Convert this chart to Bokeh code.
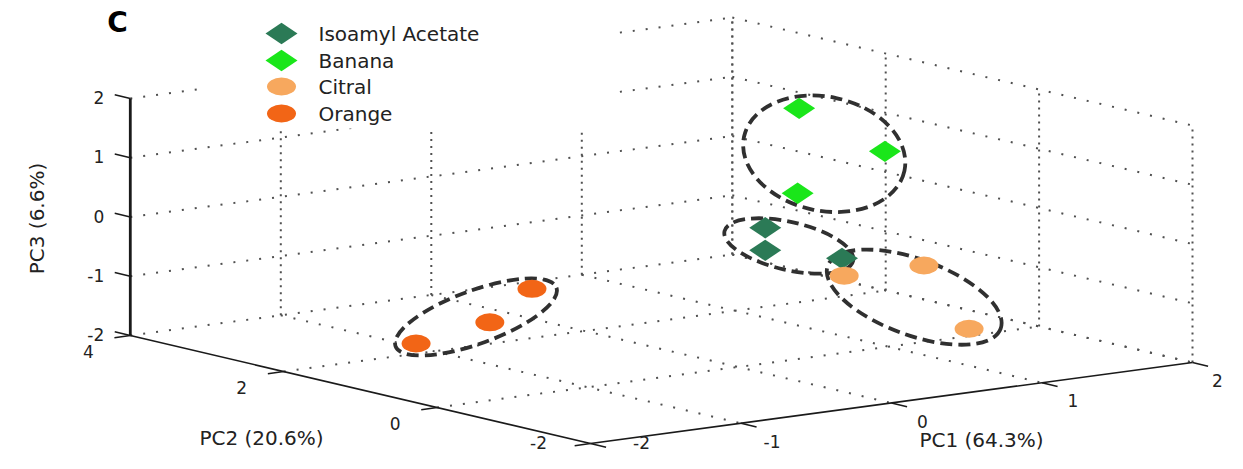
import math
import numpy as np
from bokeh.plotting import figure
from bokeh.models import Range1d
from bokeh.core.properties import value
from bokeh.embed import file_html
from bokeh.resources import INLINE

# ---------------- data ----------------
panel_letter = "C"
series_names = ["Isoamyl Acetate", "Banana", "Citral", "Orange"]
series_colors = ["#2b7a56", "#1ae61a", "#f7a85e", "#f26516"]
series_markers = ["diamond", "diamond", "circle", "circle"]

iso_pc1 = [0.69, 0.69, 1.20]
iso_pc2 = [1.0, 1.0, 1.0]
iso_pc3 = [-0.19, -0.57, -0.88]

banana_pc1 = [1.17, 1.74, 1.16]
banana_pc2 = [1.5, 1.5, 1.5]
banana_pc3 = [1.51, 0.59, 0.08]

citral_pc1 = [0.45, 0.98, 1.28]
citral_pc2 = [-0.5, -0.5, -0.5]
citral_pc3 = [-0.46, -0.47, -1.64]

orange_pc1 = [-0.86, -1.14, -1.63]
orange_pc2 = [1.0, 1.0, 1.0]
orange_pc3 = [-0.69, -1.16, -1.35]

pc1_ticks = [-2, -1, 0, 1, 2]
pc2_ticks = [4, 2, 0, -2]
pc3_ticks = [-2, -1, 0, 1, 2]
axis_titles = ["PC1 (64.3%)", "PC2 (20.6%)", "PC3 (6.6%)"]

series_pcs = [
    (iso_pc1, iso_pc2, iso_pc3),
    (banana_pc1, banana_pc2, banana_pc3),
    (citral_pc1, citral_pc2, citral_pc3),
    (orange_pc1, orange_pc2, orange_pc3),
]

# ---------------- view (3D -> screen projection) ----------------
ORIG = (737.6, 248.0)
E1 = (150.5, -20.25)
E2 = (-76.7, -18.0)
E3 = (0.0, -59.25)


def proj(a, b, c):
    a = np.asarray(a, float); b = np.asarray(b, float); c = np.asarray(c, float)
    X = ORIG[0] + E1[0] * a + E2[0] * b + E3[0] * c
    Y = ORIG[1] + E1[1] * a + E2[1] * b + E3[1] * c
    return X, -Y  # plot y is negative screen y


A_MIN, A_MAX = min(pc1_ticks), max(pc1_ticks)
B_MIN, B_MAX = min(pc2_ticks), max(pc2_ticks)
C_MIN, C_MAX = min(pc3_ticks), max(pc3_ticks)

FONT = value("DejaVu Sans")
W, H = 1227, 453

p = figure(width=W, height=H, output_backend="svg", toolbar_location=None,
           x_range=Range1d(0, W), y_range=Range1d(-H, 0),
           min_border=0, outline_line_color=None, background_fill_color="white")
p.axis.visible = False
p.grid.visible = False

# ---------------- grid (dotted) ----------------
vert_xs, vert_ys, oth_xs, oth_ys = [], [], [], []


def seg(p0, p1, vertical):
    x, y = proj([p0[0], p1[0]], [p0[1], p1[1]], [p0[2], p1[2]])
    if vertical:
        vert_xs.append(list(x)); vert_ys.append(list(y))
    else:
        oth_xs.append(list(x)); oth_ys.append(list(y))


# wall PC2 = max
for a in pc1_ticks:
    if a != A_MIN:
        seg((a, B_MAX, C_MIN), (a, B_MAX, C_MAX), True)
for c in pc3_ticks:
    if c != C_MIN:
        seg((A_MIN, B_MAX, c), (A_MAX, B_MAX, c), False)
# wall PC1 = max
for b in pc2_ticks:
    seg((A_MAX, b, C_MIN), (A_MAX, b, C_MAX), True)
for c in pc3_ticks:
    seg((A_MAX, B_MAX, c), (A_MAX, B_MIN, c), False)
# floor PC3 = min
for a in pc1_ticks:
    if a != A_MIN:
        seg((a, B_MAX, C_MIN), (a, B_MIN, C_MIN), False)
for b in pc2_ticks:
    if b != B_MIN:
        seg((A_MIN, b, C_MIN), (A_MAX, b, C_MIN), False)

GRID_COLOR = "#505050"
p.multi_line(vert_xs, vert_ys, line_color=GRID_COLOR, line_width=2.0, line_dash="2 5")
p.multi_line(oth_xs, oth_ys, line_color=GRID_COLOR, line_width=2.0, line_dash="2 11")

# ---------------- axes (solid) ----------------
AX = "#1a1a1a"
x, y = proj([A_MIN, A_MIN], [B_MAX, B_MAX], [C_MIN, C_MAX])
p.line(x, y, line_color=AX, line_width=2.8)
x, y = proj([A_MIN, A_MIN], [B_MAX, B_MIN], [C_MIN, C_MIN])
p.line(x, y, line_color=AX, line_width=1.7)
x, y = proj([A_MIN, A_MAX], [B_MIN, B_MIN], [C_MIN, C_MIN])
p.line(x, y, line_color=AX, line_width=1.7)

TICK_LEN = 16.0


def unit(v):
    n = math.hypot(v[0], v[1])
    return (v[0] / n, -v[1] / n)  # to plot-y direction


dz = unit(E2)                    # PC3 ticks point along +PC2
d2 = unit((-E1[0], -E1[1]))      # PC2 ticks point along -PC1
d1 = unit((-E2[0], -E2[1]))      # PC1 ticks point along -PC2

tx, ty = [], []
zx, zy = proj([A_MIN] * len(pc3_ticks), [B_MAX] * len(pc3_ticks), pc3_ticks)
for i in range(len(pc3_ticks)):
    tx.append([zx[i], zx[i] + dz[0] * TICK_LEN]); ty.append([zy[i], zy[i] + dz[1] * TICK_LEN])
bx, by = proj([A_MIN] * len(pc2_ticks), pc2_ticks, [C_MIN] * len(pc2_ticks))
for i in range(len(pc2_ticks)):
    tx.append([bx[i], bx[i] + d2[0] * TICK_LEN]); ty.append([by[i], by[i] + d2[1] * TICK_LEN])
ax_, ay_ = proj(pc1_ticks, [B_MIN] * len(pc1_ticks), [C_MIN] * len(pc1_ticks))
for i in range(len(pc1_ticks)):
    tx.append([ax_[i], ax_[i] + d1[0] * TICK_LEN]); ty.append([ay_[i], ay_[i] + d1[1] * TICK_LEN])
p.multi_line(tx, ty, line_color=AX, line_width=1.5)

# tick labels (labels that would fall outside the canvas are pulled back inside)
TICK_FS = "17px"
LOWEST = -442.0
RIGHTMOST = W - 10.0


def place(xs, ys, dx, dy, side_shift):
    ox, oy = [], []
    for xx, yy in zip(xs, ys):
        lx, ly = xx + dx, yy + dy
        if ly < LOWEST:
            lx += side_shift
            ly = LOWEST
        lx = min(lx, RIGHTMOST)
        ox.append(float(lx)); oy.append(float(ly))
    return ox, oy


p.text(x=list(zx - 26), y=list(zy + 1), text=[str(t) for t in pc3_ticks], text_align="right",
       text_baseline="middle", text_font=FONT, text_font_size=TICK_FS, text_color="#222222")
lx, ly = place(bx, by, -42, -16, -10)
p.text(x=lx, y=ly, text=[str(t) for t in pc2_ticks], text_align="center",
       text_baseline="middle", text_font=FONT, text_font_size=TICK_FS, text_color="#222222")
lx, ly = place(ax_, ay_, 31, -18, 20)
p.text(x=lx, y=ly, text=[str(t) for t in pc1_ticks], text_align="center",
       text_baseline="middle", text_font=FONT, text_font_size=TICK_FS, text_color="#222222")

# axis titles
TITLE_FS = "20px"
p.text(x=[981], y=[-439], text=[axis_titles[0]], text_align="center", text_baseline="middle",
       text_font=FONT, text_font_size=TITLE_FS, text_color="#222222")
p.text(x=[261], y=[-437], text=[axis_titles[1]], text_align="center", text_baseline="middle",
       text_font=FONT, text_font_size=TITLE_FS, text_color="#222222")
p.text(x=[36], y=[-218], text=[axis_titles[2]], text_align="center", text_baseline="middle",
       angle=math.pi / 2, text_font=FONT, text_font_size=TITLE_FS, text_color="#222222")

# ---------------- group ellipses (dashed) ----------------
# per group: (center offset dx, dy in px, semi-major, semi-minor, angle deg)
ellipse_style = [
    (-2.0, 0.5, 66.0, 24.0, -13.0),
    (-3.0, 2.8, 82.0, 57.0, -12.0),
    (1.8, 7.2, 92.0, 38.0, -20.0),
    (-3.3, -1.2, 85.6, 26.6, 20.0),
]
for (a, b, c), (dx, dy, ra, rb, ang) in zip(series_pcs, ellipse_style):
    X, Y = proj(a, b, c)
    cx = float(np.mean(X)) + dx
    cy = float(np.mean(Y)) - dy
    p.ellipse(x=[cx], y=[cy], width=2 * ra, height=2 * rb, width_units="screen", height_units="screen",
              angle=math.radians(ang), fill_color=None, line_color="#303030", line_width=3.8,
              line_dash="12 6")

# ---------------- points ----------------
for (a, b, c), col, mk in zip(series_pcs, series_colors, series_markers):
    X, Y = proj(a, b, c)
    if mk == "diamond":
        p.scatter(x=list(X), y=list(Y), marker="diamond", size=32, angle=math.pi / 2,
                  fill_color=col, line_color=None)
    else:
        p.ellipse(x=list(X), y=list(Y), width=29, height=18, width_units="screen",
                  height_units="screen", fill_color=col, line_color=None)

# ---------------- legend (white box, no border) ----------------
p.quad(left=[205], right=[618], bottom=[-128], top=[0], fill_color="white", line_color=None)
leg_y = [-33, -60, -86, -113]
for name, col, mk, ly_ in zip(series_names, series_colors, series_markers, leg_y):
    if mk == "diamond":
        p.scatter(x=[281], y=[ly_], marker="diamond", size=32, angle=math.pi / 2,
                  fill_color=col, line_color=None)
    else:
        p.ellipse(x=[281], y=[ly_], width=29, height=18, width_units="screen",
                  height_units="screen", fill_color=col, line_color=None)
p.text(x=[318] * 4, y=leg_y, text=series_names, text_align="left", text_baseline="middle",
       text_font=FONT, text_font_size="20px", text_color="#222222")

# panel letter
p.text(x=[117], y=[-22], text=[panel_letter], text_align="center", text_baseline="middle",
       text_font=FONT, text_font_size="28px", text_font_style="bold", text_color="black")

open("out.html", "w").write(file_html(p, INLINE))
